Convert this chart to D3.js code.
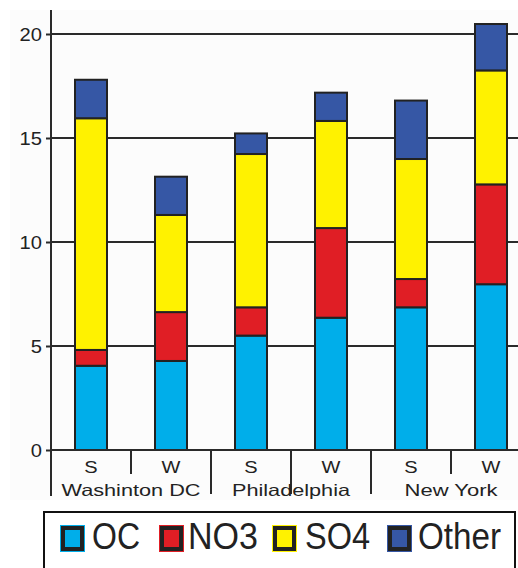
<!DOCTYPE html>
<html>
<head>
<meta charset="utf-8">
<script src="https://cdn.jsdelivr.net/npm/d3@7"></script>
<style>
html,body{margin:0;padding:0;background:#fff;}
svg{display:block;}
text{font-family:"Liberation Sans",Arial,Helvetica,sans-serif;fill:#222;}
</style>
</head>
<body>
<svg id="chart" width="518" height="568"></svg>
<script>
// ---- data ----
const bars = ["Washinton DC|S","Washinton DC|W","Philadelphia|S","Philadelphia|W","New York|S","New York|W"];
const seasons = ["S","W","S","W","S","W"];
const cities = ["Washinton DC","Philadelphia","New York"];
const seriesNames = ["OC","NO3","SO4","Other"];
const OC    = [4.05, 4.28, 5.50, 6.36, 6.86, 7.97];
const NO3   = [0.76, 2.35, 1.36, 4.31, 1.36, 4.80];
const SO4   = [11.14, 4.67, 7.37, 5.15, 5.77, 5.48];
const Other = [1.85, 1.84, 0.99, 1.36, 2.81, 2.23];
const yTicks = [0, 5, 10, 15, 20];
const colors = ["#00aeea", "#e01e25", "#fff200", "#3657a5"];

const svg = d3.select("#chart");
const x = d3.scaleBand().domain(bars).range([51, 531]).paddingInner(0.6).paddingOuter(0.3);
const y = d3.scaleLinear().domain([0, 20]).range([450, 34]);

// background
svg.append("rect").attr("x",10).attr("y",10).attr("width",508).attr("height",490).attr("fill","#fcfcfc");

// gridlines
svg.append("g").selectAll("line").data(yTicks).join("line")
  .attr("x1", 51).attr("x2", 518)
  .attr("y1", d => y(d)).attr("y2", d => y(d))
  .attr("stroke", "#2a2a2a").attr("stroke-width", 2);

// y axis
const yAxis = d3.axisLeft(y).tickValues(yTicks).tickSize(5).tickPadding(3).tickFormat(d3.format("d"));
const ga = svg.append("g").attr("transform","translate(51,0)").call(yAxis);
ga.select(".domain").remove();
ga.selectAll(".tick line").attr("stroke","#2a2a2a").attr("stroke-width",2);
ga.selectAll(".tick text").attr("font-size",18).attr("fill","#333")
  .style("font-family","'Liberation Sans',Arial,sans-serif")
  .attr("dy","0.34em")
  .attr("transform","scale(1.12,1)").attr("x", -9/1.12 - 0)
  ;
ga.selectAll(".tick text").each(function(){ const t=d3.select(this); t.attr("x", (+t.attr("x"))); });
// vertical axis line
svg.append("line").attr("x1",51).attr("x2",51).attr("y1",10).attr("y2",496).attr("stroke","#2a2a2a").attr("stroke-width",2);

// stacked bars
const table = bars.map((b,i) => ({key:b, OC:OC[i], NO3:NO3[i], SO4:SO4[i], Other:Other[i]}));
const stacked = d3.stack().keys(seriesNames)(table);
svg.append("g").selectAll("g").data(stacked).join("g")
  .attr("fill", (d,i) => colors[i])
  .selectAll("rect").data(d => d).join("rect")
  .attr("x", d => x(d.data.key))
  .attr("width", x.bandwidth())
  .attr("y", d => y(d[1]))
  .attr("height", d => y(d[0]) - y(d[1]))
  .attr("stroke", "#222").attr("stroke-width", 2);

// x axis baseline again on top
svg.append("line").attr("x1",51).attr("x2",518).attr("y1",y(0)).attr("y2",y(0)).attr("stroke","#2a2a2a").attr("stroke-width",2);

// category dividers
const step = x.step();
const dividers = [1,2,3,4,5].map(k => ({pos: 51 + step*k, long: k % 2 === 0 || k === 3}));
svg.append("g").selectAll("line").data(dividers).join("line")
  .attr("x1", d => d.pos).attr("x2", d => d.pos)
  .attr("y1", 450).attr("y2", d => d.long ? 494 : 474)
  .attr("stroke","#2a2a2a").attr("stroke-width",2);

// season labels
svg.append("g").selectAll("text").data(bars).join("text")
  .attr("x", d => x(d) + x.bandwidth()/2)
  .attr("y", 473)
  .attr("text-anchor","middle")
  .attr("font-size",16)
  .attr("fill","#333")
  .attr("transform-origin", d => `${x(d)+x.bandwidth()/2}px 473px`)
  .attr("transform","scale(1.25,1)")
  .text((d,i) => seasons[i]);

// city labels
const cityWidths = [139, 118, 93];
svg.append("g").selectAll("text").data(cities).join("text")
  .attr("x", (d,i) => 51 + step*(2*i+1) - cityWidths[i]/2)
  .attr("y", 496)
  .attr("font-size",16.5)
  .attr("fill","#333")
  .attr("textLength", (d,i) => cityWidths[i])
  .attr("lengthAdjust","spacingAndGlyphs")
  .text(d => d);

// legend
svg.append("rect").attr("x",44).attr("y",512).attr("width",471).attr("height",70)
  .attr("fill","#fff").attr("stroke","#111").attr("stroke-width",2);
const legX = [60, 159, 272, 387];
const legTextX = [92, 188, 305, 418];
const legTextW = [48, 70, 65, 83];
const lg = svg.append("g").selectAll("g").data(seriesNames).join("g");
lg.append("rect").attr("x",(d,i)=>legX[i]).attr("y",525).attr("width",25).attr("height",27).attr("fill",(d,i)=>colors[i]);
lg.append("rect").attr("x",(d,i)=>legX[i]+3).attr("y",528).attr("width",19).attr("height",21)
  .attr("fill",(d,i)=>colors[i]).attr("stroke","#222").attr("stroke-width",4);
lg.append("text").attr("x",(d,i)=>legTextX[i]).attr("y",549)
  .attr("font-size",36).attr("fill","#111")
  .attr("textLength",(d,i)=>legTextW[i]).attr("lengthAdjust","spacingAndGlyphs")
  .text(d=>d);
</script>
</body>
</html>
